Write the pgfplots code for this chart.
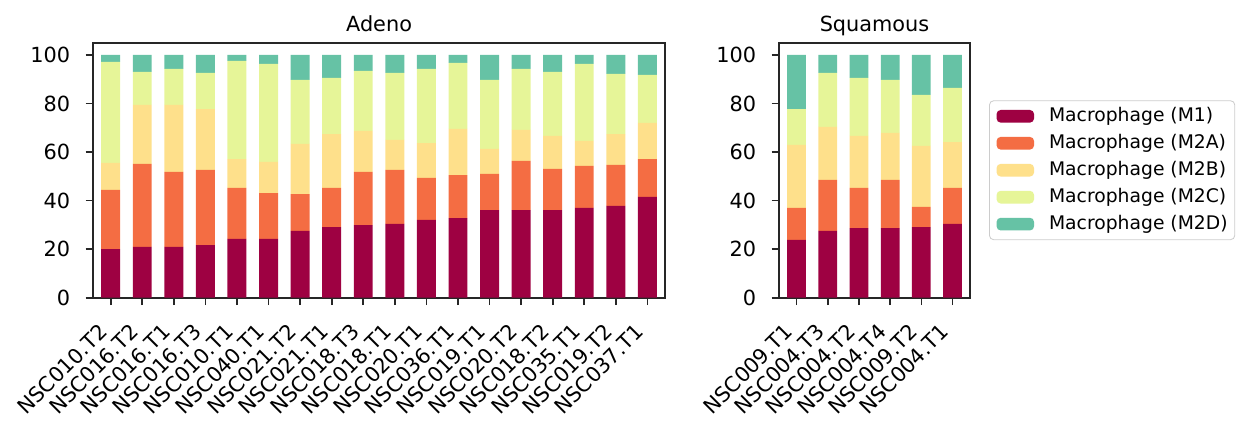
\documentclass[border=0pt]{standalone}
\usepackage{pgfplots}
\pgfplotsset{compat=1.18}
\usepackage{pgfplotstable}
\usepackage{fontspec}
\setmainfont{DejaVu Sans}
\definecolor{cM1}{HTML}{9E0142}
\definecolor{cM2A}{HTML}{F46D43}
\definecolor{cM2B}{HTML}{FEE08B}
\definecolor{cM2C}{HTML}{E6F598}
\definecolor{cM2D}{HTML}{66C2A5}
\definecolor{axc}{HTML}{262626}

\pgfplotstableread{
x M1 M2A M2B M2C M2D
0 20.0 24.4 11.1 41.6 2.9
1 20.9 34.2 24.3 13.6 7.0
2 20.9 30.9 27.6 14.8 5.8
3 21.7 30.9 25.1 14.9 7.4
4 24.2 21.0 11.9 40.4 2.5
5 24.2 18.9 12.8 40.4 3.7
6 27.5 15.2 20.6 26.4 10.3
7 29.1 16.1 22.2 23.1 9.5
8 29.9 21.9 16.9 24.7 6.6
9 30.4 22.2 12.4 27.6 7.4
10 32.0 17.3 14.4 30.5 5.8
11 32.8 17.7 19.0 27.2 3.3
12 36.1 14.9 10.3 28.4 10.3
13 36.1 20.2 12.8 25.1 5.8
14 36.1 16.9 13.6 26.4 7.0
15 37.0 17.3 10.3 31.7 3.7
16 37.8 16.9 12.7 24.8 7.8
17 41.5 15.6 14.9 19.8 8.2
}\adeno

\pgfplotstableread{
x M1 M2A M2B M2C M2D
0 23.8 13.2 25.9 14.8 22.3
1 27.5 21.0 21.8 22.3 7.4
2 28.7 16.5 21.4 23.9 9.5
3 28.7 19.8 19.4 21.8 10.3
4 29.1 8.3 25.1 21.0 16.5
5 30.4 14.8 18.9 22.3 13.6
}\squam

\pgfplotsset{
  common/.style={
    scale only axis,
    height=122.4pt,
    ymin=0, ymax=105,
    ytick={0,20,40,60,80,100},
    ybar stacked,
    bar width=0.6,
    bar shift=0pt,
    axis line style={axc, line width=0.8pt},
    every tick/.style={axc, line width=0.8pt},
    tick align=outside,
    major tick length=3.5pt,
    xtick pos=bottom, ytick pos=left,
    /pgf/number format/assume math mode=true,
    tick label style={font=\fontsize{10}{12}\selectfont, text=black},
    yticklabel style={inner sep=0pt, anchor=east},
    yticklabel shift=7.3pt,
    xticklabel style={xshift=-3.5pt, rotate=45, anchor=east, inner sep=0pt},
    xticklabel shift=11pt,
    xtick=data,
    every axis title/.style={font=\fontsize{10}{12}\selectfont, at={(0.5,1)}, anchor=base, yshift=5.6pt},
    every axis plot/.append style={draw=none},
    legend image code/.code={\fill[##1] (0pt,-3.05pt) rectangle (18pt,3.05pt);},
  }
}

\begin{document}
\begin{tikzpicture}
\path[use as bounding box] (-44.64pt,-60.62pt) rectangle (555.36pt,142.9pt);
\begin{axis}[common,
  at={(0pt,0pt)}, anchor=south west,
  width=274.6pt,
  xmin=-0.56, xmax=17.56,
  title={Adeno},
  xticklabels={NSC010.T2,NSC016.T2,NSC016.T1,NSC016.T3,NSC010.T1,NSC040.T1,NSC021.T2,NSC021.T1,NSC018.T3,NSC018.T1,NSC020.T1,NSC036.T1,NSC019.T1,NSC020.T2,NSC018.T2,NSC035.T1,NSC019.T2,NSC037.T1},
]
\addplot[fill=cM1] table[x=x,y=M1] {\adeno};
\addplot[fill=cM2A] table[x=x,y=M2A] {\adeno};
\addplot[fill=cM2B] table[x=x,y=M2B] {\adeno};
\addplot[fill=cM2C] table[x=x,y=M2C] {\adeno};
\addplot[fill=cM2D] table[x=x,y=M2D] {\adeno};
\end{axis}
\begin{axis}[common,
  at={(329.28pt,0pt)}, anchor=south west,
  width=91.7pt,
  xmin=-0.56, xmax=5.56,
  title={Squamous},
  xticklabels={NSC009.T1,NSC004.T3,NSC004.T2,NSC004.T4,NSC009.T2,NSC004.T1},
  legend style={at={(1.0995,0.5)}, anchor=west, draw=black!20, rounded corners=2pt,
    font=\fontsize{9}{10.8}\selectfont, row sep=4.6pt, column sep=7.2pt,
    inner xsep=3.4pt, inner ysep=3.3pt,
    nodes={inner xsep=0pt, inner ysep=0pt}},
  legend cell align=left,
]
\addplot[fill=cM1] table[x=x,y=M1] {\squam};
\addplot[fill=cM2A] table[x=x,y=M2A] {\squam};
\addplot[fill=cM2B] table[x=x,y=M2B] {\squam};
\addplot[fill=cM2C] table[x=x,y=M2C] {\squam};
\addplot[fill=cM2D] table[x=x,y=M2D] {\squam};
\legend{Macrophage (M1),Macrophage (M2A),Macrophage (M2B),Macrophage (M2C),Macrophage (M2D)}
\end{axis}
\end{tikzpicture}
\end{document}
